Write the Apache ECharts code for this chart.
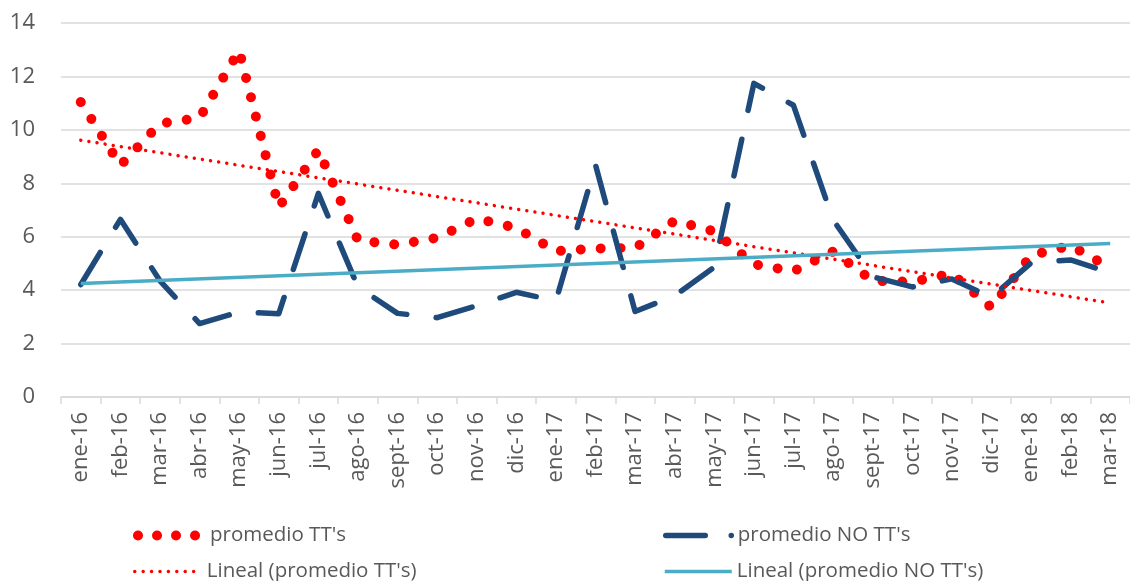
<!DOCTYPE html>
<html>

<head>
    <meta charset="utf-8">
    <script src="https://cdn.jsdelivr.net/npm/echarts@6/dist/echarts.min.js"></script>
    <style>
        html, body { margin: 0; padding: 0; background: #fff; }
        #chart { width: 1130px; height: 581px; }
    </style>
</head>

<body>
    <div id="chart"></div>
    <script>
        // meses
        var meses = ['ene-16', 'feb-16', 'mar-16', 'abr-16', 'may-16', 'jun-16', 'jul-16', 'ago-16', 'sept-16',
            'oct-16', 'nov-16', 'dic-16', 'ene-17', 'feb-17', 'mar-17', 'abr-17', 'may-17', 'jun-17', 'jul-17',
            'ago-17', 'sept-17', 'oct-17', 'nov-17', 'dic-17', 'ene-18', 'feb-18', 'mar-18'];

        var promedioTT = [11.04, 8.67, 10.24, 10.45, 12.97, 7.1, 9.25, 5.86, 5.7, 5.96, 6.68, 6.33, 5.46, 5.56,
            5.58, 6.6, 6.2, 4.97, 4.71, 5.45, 4.35, 4.31, 4.62, 3.35, 5.3, 5.67, 4.84];

        var promedioNoTT = [4.21, 6.65, 4.35, 2.75, 3.18, 3.12, 7.62, 4.12, 3.13, 2.97, 3.42, 3.92, 3.6, 8.69,
            3.2, 3.79, 4.86, 11.74, 10.92, 6.63, 4.5, 4.12, 4.42, 3.73, 5.02, 5.13, 4.65];

        // extremos de las lineas de tendencia
        var tendenciaTT = [9.61, 3.52];
        var tendenciaNoTT = [4.25, 5.75];

        var yTicks = { min: 0, max: 14, interval: 2 };

        var nombres = ["promedio TT's", "promedio NO TT's", "Lineal (promedio TT's)", "Lineal (promedio NO TT's)"];

        var gris = '#595959';
        var fuente = "'Open Sans', 'Noto Sans', sans-serif";

        var myChart = echarts.init(document.getElementById('chart'));

        var primero = meses[0], ultimo = meses[meses.length - 1];

        // una leyenda por elemento, para colocarlas en 2 filas x 2 columnas
        function leyenda(nombre, left, top, ancho, lineStyle) {
            return {
                left: left,
                top: top,
                padding: 0,
                itemWidth: ancho,
                itemHeight: 14,
                selectedMode: false,
                textStyle: { fontSize: 20.5, color: gris, fontFamily: fuente },
                data: [{ name: nombre, lineStyle: lineStyle, itemStyle: { opacity: 0 } }]
            };
        }

        var option = {
            animation: false,
            grid: { left: 61, top: 23, bottom: 184, width: 1076 },
            legend: [
                leyenda(nombres[0], 133, 525, 67, { width: 10, type: [0.01, 19], cap: 'round' }),
                leyenda(nombres[2], 133, 561, 67, { width: 3.5, type: [0.01, 8.4], cap: 'round' }),
                leyenda(nombres[1], 663, 525, 67, { width: 5.5, type: [39.5, 26, 0.01, 40], cap: 'round' }),
                leyenda(nombres[3], 663, 561, 67, { width: 3.5 })
            ],
            xAxis: {
                type: 'category',
                data: meses,
                boundaryGap: true,
                axisLine: { lineStyle: { color: '#d9d9d9', width: 1.5 } },
                axisTick: { show: true, length: 7, lineStyle: { color: '#d9d9d9', width: 1.5 } },
                axisLabel: {
                    interval: 0,
                    rotate: 90,
                    margin: 15,
                    fontSize: 22,
                    color: gris,
                    fontFamily: fuente
                }
            },
            yAxis: {
                type: 'value',
                min: yTicks.min,
                max: yTicks.max,
                interval: yTicks.interval,
                axisLine: { show: false },
                axisTick: { show: false },
                axisLabel: { fontSize: 22, color: gris, margin: 26, fontFamily: fuente },
                splitLine: { lineStyle: { color: '#d9d9d9', width: 1.5 } }
            },
            series: [{
                name: nombres[0],
                type: 'line',
                data: promedioTT,
                symbol: 'none',
                color: '#ff0000',
                lineStyle: { color: '#ff0000', width: 10, type: [0.01, 19.9], cap: 'round', join: 'round' }
            }, {
                name: nombres[1],
                type: 'line',
                data: promedioNoTT,
                symbol: 'none',
                color: '#1f4a7c',
                lineStyle: { color: '#1f4a7c', width: 5.5, type: [37.5, 29.5], cap: 'round', join: 'round' }
            }, {
                name: nombres[2],
                type: 'line',
                data: [[primero, tendenciaTT[0]], [ultimo, tendenciaTT[1]]],
                symbol: 'none',
                color: '#ff0000',
                lineStyle: { color: '#ff0000', width: 3.5, type: [0.01, 8.2], cap: 'round' }
            }, {
                name: nombres[3],
                type: 'line',
                data: [[primero, tendenciaNoTT[0]], [ultimo, tendenciaNoTT[1]]],
                symbol: 'none',
                color: '#4bacc6',
                lineStyle: { color: '#4bacc6', width: 3.5 }
            }]
        };

        myChart.setOption(option);
    </script>
</body>

</html>
